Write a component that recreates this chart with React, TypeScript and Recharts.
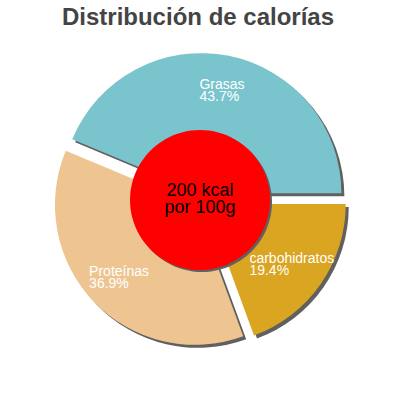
import { Cell, Pie, PieChart } from "recharts";

const categories = ["Grasas", "Proteínas", "carbohidratos"];
const shares = [43.7, 36.9, 19.4];
const sliceColors = ["#7AC5CD", "#EEC591", "#DAA520"];
const centerLines = ["200 kcal", "por 100g"];
const title = "Distribución de calorías";

const data = categories.map((name, i) => ({ name, value: shares[i] }));
const centerData = [{ name: centerLines.join(" "), value: 1 }];

const W = 400;
const H = 400;
const CX = 200;
const CY = 200;
const R = 140;
const HOLE = 70;
const EXPLODE = 7;
const SHADOW = 3;
const RAD = Math.PI / 180;
const labelFont = "14px 'Liberation Sans', Arial, sans-serif";

const total = shares.reduce((a, b) => a + b, 0);
const mids = shares.map((v, i) => {
  const before = shares.slice(0, i).reduce((a, b) => a + b, 0);
  return ((before + v / 2) / total) * 360;
});
const offsets = mids.map((m) => ({
  dx: Math.cos(m * RAD) * EXPLODE,
  dy: -Math.sin(m * RAD) * EXPLODE,
}));

let ctx: CanvasRenderingContext2D | null = null;
function textWidth(s: string) {
  if (!ctx) ctx = document.createElement("canvas").getContext("2d");
  if (!ctx) return s.length * 7;
  ctx.font = labelFont;
  return ctx.measureText(s).width;
}

function sliceLabel(slice: number) {
  return (props: any) => {
    if (props.index !== slice) return null;
    const r = (HOLE + R) / 2;
    const x = CX + offsets[slice].dx + Math.cos(mids[slice] * RAD) * r;
    const y = CY + offsets[slice].dy - Math.sin(mids[slice] * RAD) * r;
    const x0 = x - textWidth(categories[slice]) / 2;
    return (
      <text
        key={`lbl-${slice}`}
        fill="#ffffff"
        fontSize={14}
        fontFamily="'Liberation Sans', Arial, sans-serif"
        textAnchor="start"
      >
        <tspan x={x0} y={y - 1}>
          {categories[slice]}
        </tspan>
        <tspan x={x0} y={y + 11}>
          {shares[slice].toFixed(1)}%
        </tspan>
      </text>
    );
  };
}

export default function App() {
  return (
    <div style={{ position: "absolute", left: 0, top: 0, width: W, height: H, background: "#fff" }}>
      <PieChart width={W} height={H} margin={{ top: 0, right: 0, bottom: 0, left: 0 }}>
        {data.map((_, s) => (
          <Pie
            key={`shadow-${s}`}
            data={data}
            dataKey="value"
            nameKey="name"
            cx={CX + offsets[s].dx + SHADOW}
            cy={CY + offsets[s].dy + SHADOW}
            outerRadius={R}
            startAngle={0}
            endAngle={360}
            stroke="none"
            isAnimationActive={false}
          >
            {data.map((d, i) => (
              <Cell key={d.name} fill={i === s ? "#606060" : "none"} />
            ))}
          </Pie>
        ))}
        {data.map((_, s) => (
          <Pie
            key={`slice-${s}`}
            data={data}
            dataKey="value"
            nameKey="name"
            cx={CX + offsets[s].dx}
            cy={CY + offsets[s].dy}
            outerRadius={R}
            startAngle={0}
            endAngle={360}
            stroke="none"
            labelLine={false}
            label={sliceLabel(s)}
            isAnimationActive={false}
          >
            {data.map((d, i) => (
              <Cell key={d.name} fill={i === s ? sliceColors[s] : "none"} />
            ))}
          </Pie>
        ))}
        <Pie
          data={centerData}
          dataKey="value"
          cx={CX + 2}
          cy={CY + 2}
          outerRadius={HOLE}
          stroke="none"
          fill="#606060"
          isAnimationActive={false}
        />
        <Pie
          data={centerData}
          dataKey="value"
          cx={CX}
          cy={CY}
          outerRadius={HOLE}
          stroke="none"
          fill="#ff0000"
          isAnimationActive={false}
        />
      </PieChart>
      <svg
        width={W}
        height={H}
        style={{ position: "absolute", left: 0, top: 0, pointerEvents: "none" }}
      >
        <text
          x={198}
          y={25}
          textAnchor="middle"
          fontSize={24}
          fontWeight="bold"
          fill="#444444"
          fontFamily="'Liberation Sans', Arial, sans-serif"
        >
          {title}
        </text>
        <text
          textAnchor="middle"
          fontSize={18}
          fill="#000000"
          fontFamily="'Liberation Sans', Arial, sans-serif"
        >
          <tspan x={200} y={196}>
            {centerLines[0]}
          </tspan>
          <tspan x={200} y={213}>
            {centerLines[1]}
          </tspan>
        </text>
      </svg>
    </div>
  );
}
